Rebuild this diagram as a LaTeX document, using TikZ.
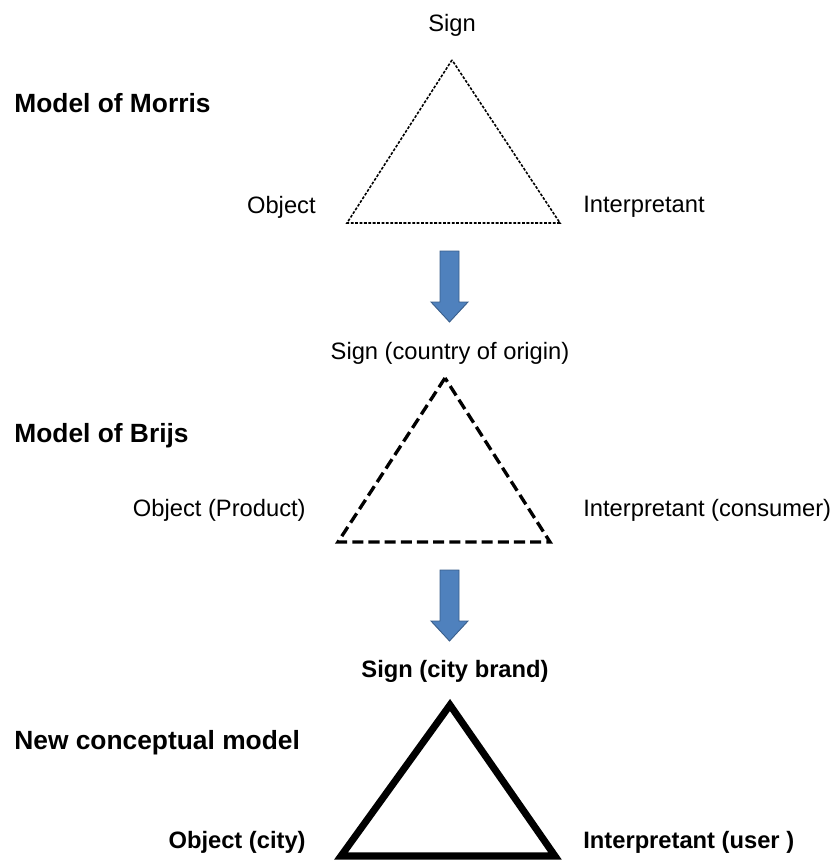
\documentclass[tikz,border=0pt]{standalone}
\usepackage{fontspec}
\setmainfont{Liberation Sans}
\usepackage{tikz}
\usetikzlibrary{calc}
\usetikzlibrary{positioning}
\definecolor{arrowblue}{RGB}{79,129,189}
\definecolor{arrowedge}{RGB}{56,93,138}
\tikzset{every node/.style={inner sep=0pt,font=\fontsize{13.5}{16}\selectfont}}
\tikzset{title/.style={font=\fontsize{15}{18}\selectfont\bfseries}}
\tikzset{boldlabel/.style={font=\fontsize{13.5}{16}\selectfont\bfseries}}
\tikzset{morrisline/.style={line width=0.9pt,dash pattern=on 1.6pt off 0.9pt}}
\tikzset{brijsline/.style={line width=1.9pt,dash pattern=on 6.3pt off 2.9pt}}
\tikzset{newline/.style={line width=4pt,line join=miter}}
\tikzset{blockarrow/.style={fill=arrowblue,draw=arrowedge,line width=0.5pt,line join=miter}}

\begin{document}
\begin{tikzpicture}[x=0.02cm,y=-0.02cm]
\useasboundingbox (0,0) rectangle (837,860);

% Model of Morris
\node (sign1) at (452,25) {Sign};
\node[title,anchor=west] (morris) at (14,103) {Model of Morris};
\node[anchor=east] (obj1) at (316,207) {Object};
\node[anchor=west] (int1) at (583,207) {Interpretant};
\coordinate (m1) at (452,60);
\coordinate (m2) at (347,223);
\coordinate (m3) at (560,223);
\draw[morrisline] (m1) -- (m2) -- (m3) -- cycle;

% arrow 1
\coordinate (arr1) at (449.5,251);
\draw[blockarrow] (arr1) ++(-9.5,0) -- ++(19,0) -- ++(0,51) -- ++(9,0)
  -- ++(-18.5,20) -- ++(-18.5,-20) -- ++(9,0) -- cycle;

% Model of Brijs
\node (sign2) at (450,353) {Sign (country of origin)};
\node[title,anchor=west] (brijs) at (14,436) {Model of Brijs};
\node[anchor=east] (obj2) at (306,510) {Object (Product)};
\node[anchor=west] (int2) at (583,510) {Interpretant (consumer)};
\coordinate (b1) at (445,378);
\coordinate (b2) at (338,542);
\coordinate (b3) at (550,542);
\draw[brijsline] (b1) -- (b2) -- (b3) -- cycle;

% arrow 2
\coordinate (arr2) at (449.5,570);
\draw[blockarrow] (arr2) ++(-9.5,0) -- ++(19,0) -- ++(0,51) -- ++(9,0)
  -- ++(-18.5,20) -- ++(-18.5,-20) -- ++(9,0) -- cycle;

% New conceptual model
\node[boldlabel] (sign3) at (455,671) {Sign (city brand)};
\node[title,anchor=west] (newmodel) at (14,743) {New conceptual model};
\node[boldlabel,anchor=east] (obj3) at (306,842) {Object (city)};
\node[boldlabel,anchor=west] (int3) at (583,842) {Interpretant (user )};
\coordinate (n1) at (450,705);
\coordinate (n2) at (341,856);
\coordinate (n3) at (555,856);
\draw[newline] (n1) -- (n2) -- (n3) -- cycle;

\end{tikzpicture}
\end{document}
